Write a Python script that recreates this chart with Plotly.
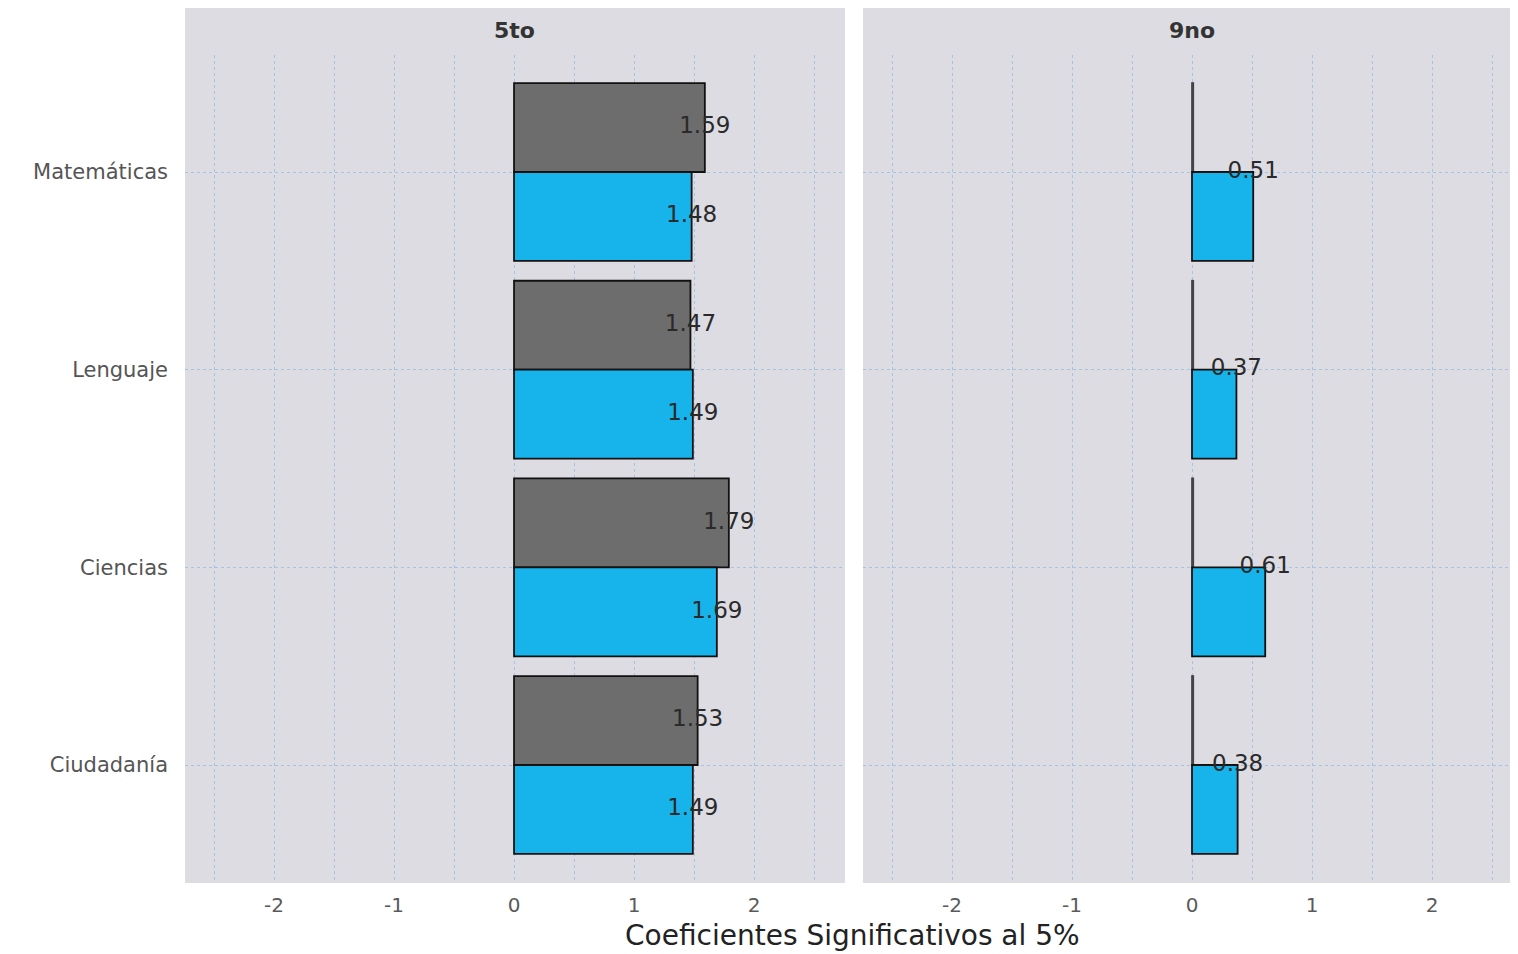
import plotly.graph_objects as go

categories = ["Matemáticas", "Lenguaje", "Ciencias", "Ciudadanía"]
panels = ["5to", "9no"]
gray_5to = [1.59, 1.47, 1.79, 1.53]
blue_5to = [1.48, 1.49, 1.69, 1.49]
gray_9no = [0.01, 0.01, 0.01, 0.01]
blue_9no = [0.51, 0.37, 0.61, 0.38]
tick_vals_x = [-2, -1, 0, 1, 2]
tick_text_x = ["-2", "-1", "0", "1", "2"]

GRAY = "#6d6d6d"
BLUE = "#17b4ec"
PANEL_BG = "#dcdce2"
GRID = "#a6c4e2"
FONT = "DejaVu Sans"

idx = list(range(len(categories)))
fig = go.Figure()

line = dict(color="#111111", width=1.8)
fig.add_trace(go.Bar(y=idx, x=gray_5to, orientation="h", marker=dict(color=GRAY, line=line),
                     xaxis="x", yaxis="y", offsetgroup="g", showlegend=False))
fig.add_trace(go.Bar(y=idx, x=blue_5to, orientation="h", marker=dict(color=BLUE, line=line),
                     xaxis="x", yaxis="y", offsetgroup="b", showlegend=False))
fig.add_trace(go.Bar(y=idx, x=gray_9no, orientation="h", marker=dict(color=GRAY, line=dict(color="#444444", width=1.8)),
                     xaxis="x2", yaxis="y", offsetgroup="g", showlegend=False))
fig.add_trace(go.Bar(y=idx, x=blue_9no, orientation="h", marker=dict(color=BLUE, line=line),
                     xaxis="x2", yaxis="y", offsetgroup="b", showlegend=False))

tfont = dict(family=FONT, size=23, color="#2a2a2a")
fig.add_trace(go.Scatter(x=gray_5to, y=[i - 0.225 for i in idx], mode="text",
                         text=[f"{v:.2f}" for v in gray_5to], textfont=tfont,
                         xaxis="x", yaxis="y", showlegend=False, cliponaxis=False))
fig.add_trace(go.Scatter(x=blue_5to, y=[i + 0.225 for i in idx], mode="text",
                         text=[f"{v:.2f}" for v in blue_5to], textfont=tfont,
                         xaxis="x", yaxis="y", showlegend=False, cliponaxis=False))
fig.add_trace(go.Scatter(x=blue_9no, y=idx, mode="text",
                         text=[f"{v:.2f}" for v in blue_9no], textfont=tfont,
                         xaxis="x2", yaxis="y", showlegend=False, cliponaxis=False))

# figure is placed at (8, 8) in the page
OFF = 8
W, H = 1518, 946
L, R, T, B = 185 - OFF, 0, 55 - OFF, H - (883 - OFF)
pw = W - L - R
ph = H - T - B
d1 = [0, (845 - 185) / pw]
d2 = [(863 - 185) / pw, 1]
x2_right = (W + OFF - 1192) / 120.0

xcommon = dict(
    tickvals=tick_vals_x, ticktext=tick_text_x,
    showgrid=True, gridcolor=GRID, griddash="dot", gridwidth=1.2,
    minor=dict(dtick=0.5, tick0=0, showgrid=True, gridcolor=GRID, griddash="dot", gridwidth=1.2),
    zeroline=False, showline=False, ticks="",
    tickfont=dict(family=FONT, size=20, color="#5a5a5a"), ticklabelstandoff=8,
    anchor="y",
)
fig.update_layout(
    width=W, height=H,
    margin=dict(l=L, r=R, t=T, b=B),
    paper_bgcolor="white", plot_bgcolor=PANEL_BG,
    barmode="group", bargap=0.1, bargroupgap=0,
    xaxis=dict(domain=d1, range=[-2.742, 2.758], **xcommon),
    xaxis2=dict(domain=d2, range=[-2.742, x2_right], **xcommon),
    yaxis=dict(range=[3.597, -0.592], tickvals=idx, ticktext=categories,
               showgrid=True, gridcolor=GRID, griddash="dot", gridwidth=1.2,
               zeroline=False, showline=False, ticks="",
               tickfont=dict(family=FONT, size=21, color="#555555"), ticklabelstandoff=16),
    font=dict(family=FONT),
)

strip_top = 1 + T / ph
for xr, name in [("x domain", panels[0]), ("x2 domain", panels[1])]:
    fig.add_shape(type="rect", xref=xr, yref="paper", x0=0, x1=1, y0=1, y1=strip_top,
                  fillcolor=PANEL_BG, line=dict(width=0), layer="below")
for xr, name, cx in [("x", panels[0], 0), ("x2", panels[1], 0)]:
    fig.add_annotation(xref=xr, yref="paper", x=cx, y=1 + (55 - 30) / ph, text=f"<b>{name}</b>",
                       showarrow=False, xanchor="center", yanchor="middle",
                       font=dict(family=FONT, size=22, color="#333333"))

fig.add_annotation(xref="paper", yref="paper", x=(852 - 185) / pw, y=-(935 - 883) / ph,
                   text="Coeficientes Significativos al 5%", showarrow=False,
                   xanchor="center", yanchor="middle",
                   font=dict(family=FONT, size=28, color="#222222"))

fig.write_html("out.html")
